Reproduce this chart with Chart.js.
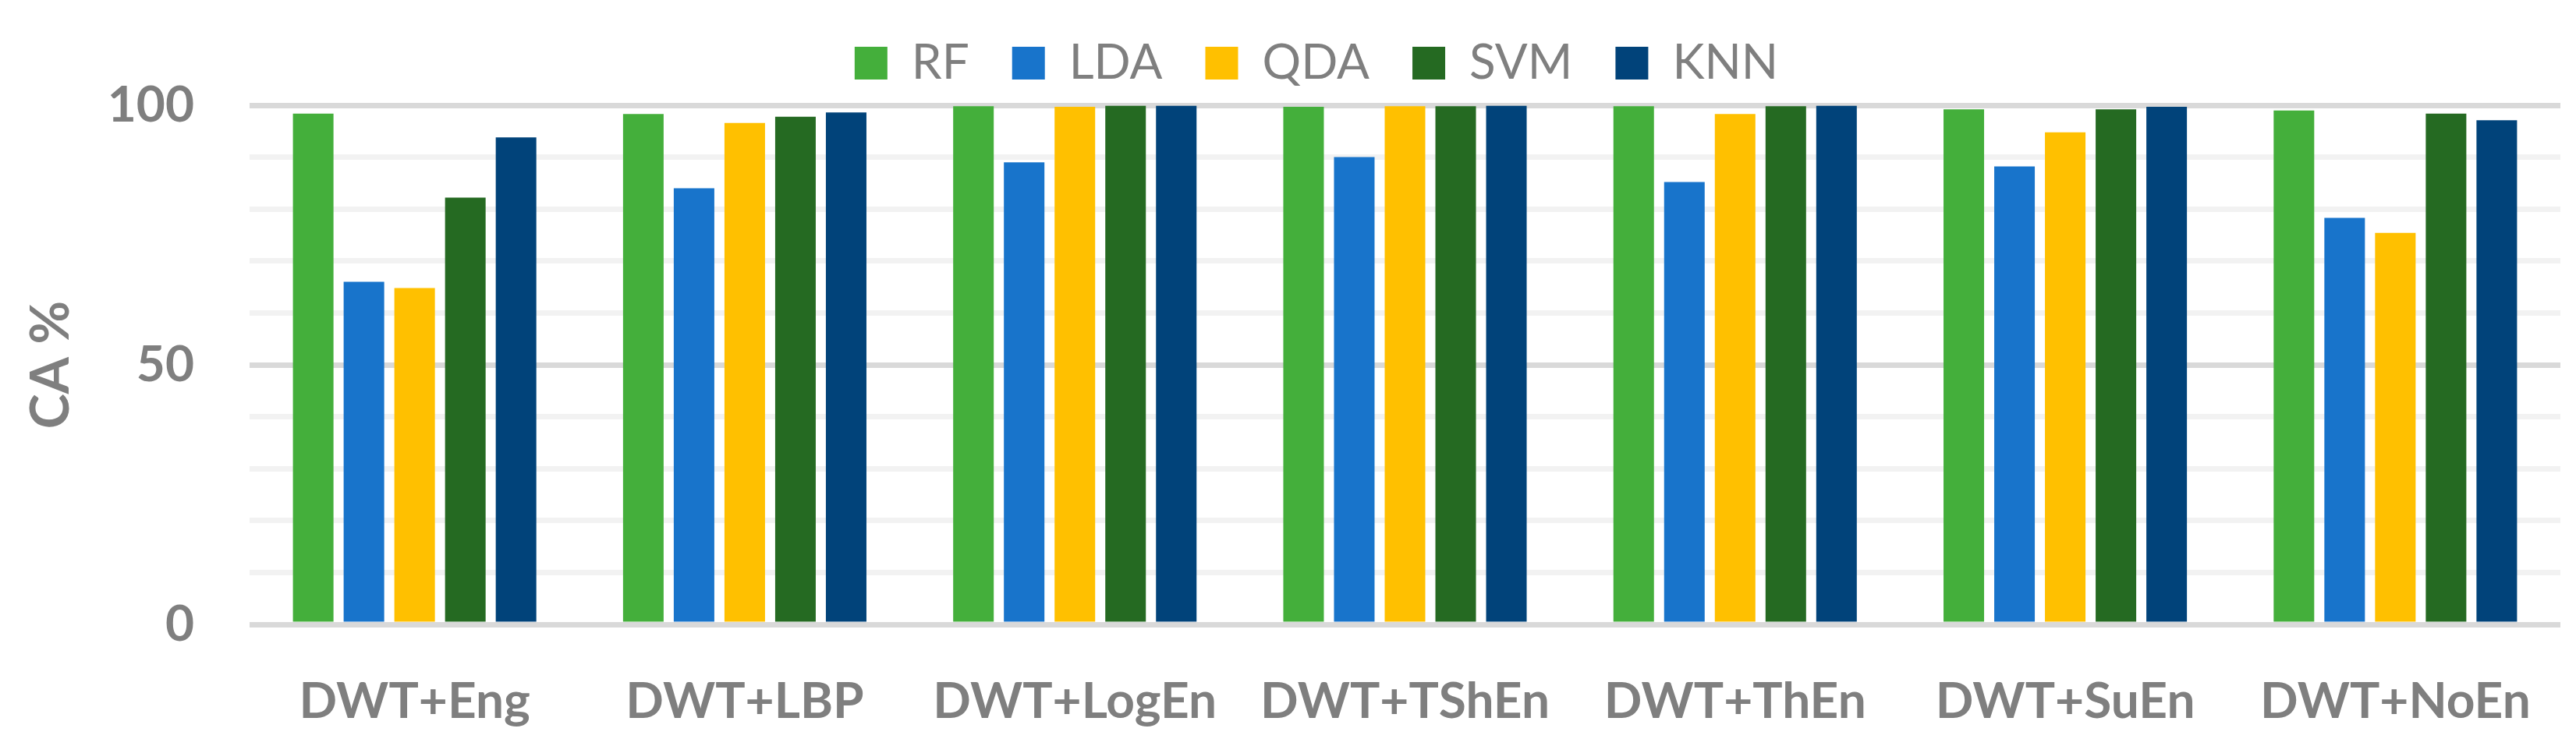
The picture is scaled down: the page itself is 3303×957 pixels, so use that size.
<!DOCTYPE html>
<html>
<head>
<meta charset="utf-8">
<script src="https://cdn.jsdelivr.net/npm/chart.js@4.4.1/dist/chart.umd.min.js"></script>
<style>
  html, body { margin: 0; padding: 0; background: #ffffff; }
  #wrap { width: 3303px; height: 957px; position: relative; }
</style>
</head>
<body>
<div id="wrap"><canvas id="chart"></canvas></div>
<script>
// ---- data ----
const categories = ['DWT+Eng', 'DWT+LBP', 'DWT+LogEn', 'DWT+TShEn', 'DWT+ThEn', 'DWT+SuEn', 'DWT+NoEn'];
const seriesNames = ['RF', 'LDA', 'QDA', 'SVM', 'KNN'];
const rfValues  = [98.4, 98.3, 99.8, 99.7, 99.8, 99.2, 99.0];
const ldaValues = [66.0, 84.0, 89.0, 90.0, 85.2, 88.2, 78.3];
const qdaValues = [64.8, 96.6, 99.7, 99.8, 98.3, 94.8, 75.4];
const svmValues = [82.2, 97.8, 99.9, 99.8, 99.8, 99.2, 98.4];
const knnValues = [93.8, 98.6, 99.9, 99.9, 99.9, 99.7, 97.1];
const yTickLabels = [0, 50, 100];
const yAxisTitle = 'CA %';

// ---- styles ----
const seriesColors = ['#44AF3B', '#1874CB', '#FFC000', '#256A22', '#01437A'];
const textColor = '#7F7F7F';
const FONT = 'Lato';

const seriesValues = [rfValues, ldaValues, qdaValues, svmValues, knnValues];

const legendPlace = {
  id: 'legendPlace',
  afterLayout(chart) {
    const l = chart.legend;
    if (!l) return;
    const lab = l.options.labels;
    const itemH = Math.max(lab.font.size, lab.boxHeight);
    const dx = 1688 - (l.left + l.right) / 2;
    const dy = 81 - (l.top + lab.padding + itemH / 2);
    l.left += dx; l.right += dx;
    l.top += dy; l.bottom += dy;
  }
};

function build() {
  const ctx = document.getElementById('chart').getContext('2d');
  new Chart(ctx, {
    type: 'bar',
    data: {
      labels: categories,
      datasets: seriesNames.map((name, i) => ({
        label: name,
        data: seriesValues[i],
        backgroundColor: seriesColors[i],
        borderWidth: 0,
        barPercentage: 0.8,
        categoryPercentage: 0.768
      }))
    },
    options: {
      responsive: true,
      maintainAspectRatio: false,
      animation: false,
      devicePixelRatio: 1,
      layout: { padding: { top: 8, left: 0, right: 20, bottom: 0 } },
      plugins: {
        tooltip: { enabled: false },
        legend: {
          position: 'top',
          labels: {
            boxWidth: 42,
            boxHeight: 42,
            padding: 55,
            color: textColor,
            font: { family: FONT, size: 62, weight: 'normal' }
          }
        }
      },
      scales: {
        x: {
          grid: { display: false },
          border: { display: false },
          ticks: {
            color: textColor,
            padding: 53,
            maxRotation: 0,
            autoSkip: false,
            font: { family: FONT, size: 64, weight: 'bold' }
          },
          afterFit(scale) { scale.height = 156; }
        },
        y: {
          min: 0,
          max: 100,
          border: { display: false },
          grid: {
            drawTicks: false,
            lineWidth: 7,
            color: (c) => (c.tick && yTickLabels.includes(c.tick.value)) ? '#D9D9D9' : '#F2F2F2'
          },
          ticks: {
            stepSize: 10,
            autoSkip: false,
            padding: 71,
            color: textColor,
            font: { family: FONT, size: 64, weight: 'bold' },
            callback: (v) => yTickLabels.includes(v) ? String(v) : ''
          },
          title: {
            display: true,
            text: yAxisTitle,
            color: textColor,
            padding: { top: 25, bottom: 0 },
            font: { family: FONT, size: 68, weight: 'bold' }
          },
          afterFit(scale) { scale.width = 320; }
        }
      }
    },
    plugins: [legendPlace]
  });
}

Promise.all([
  document.fonts.load('bold 64px Lato'),
  document.fonts.load('62px Lato')
]).then(build, build);
</script>
</body>
</html>
